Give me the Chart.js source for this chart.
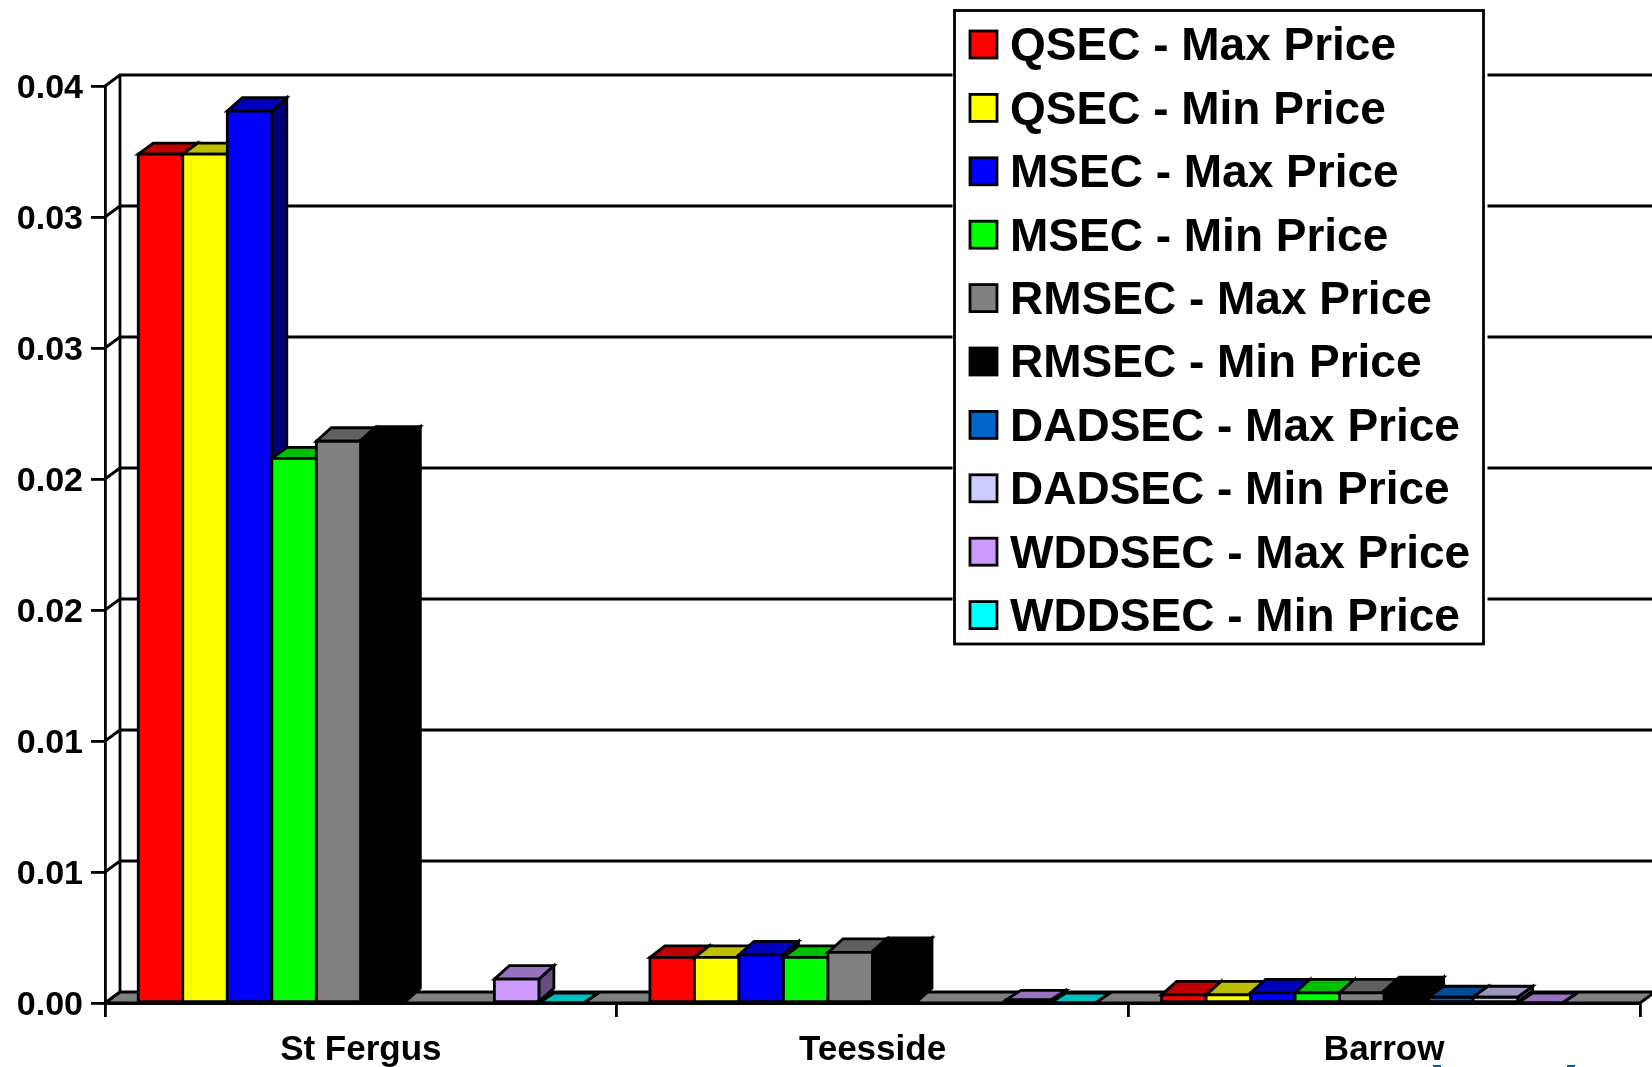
<!DOCTYPE html>
<html><head><meta charset="utf-8">
<style>html,body{margin:0;padding:0;background:#fff;overflow:hidden}canvas{display:block}</style>
<script src="https://cdn.jsdelivr.net/npm/chart.js@4/dist/chart.umd.js"></script>
</head><body><canvas id="c" width="1652" height="1067"></canvas>
<script>
const categories = ['St Fergus','Teesside','Barrow'];
const yTickLabels = ['0.00','0.01','0.01','0.02','0.02','0.03','0.03','0.04'];
const qsecMax   = [0.03240,0.00174,0.00031];
const qsecMin   = [0.03240,0.00174,0.00031];
const msecMax   = [0.03404,0.00184,0.00039];
const msecMin   = [0.02079,0.00174,0.00039];
const rmsecMax  = [0.02144,0.00193,0.00039];
const rmsecMin  = [0.02148,0.00197,0.00047];
const dadsecMax = [null,null,0.00022];
const dadsecMin = [null,null,0.00022];
const wddsecMax = [0.00091,0.00012,0];
const wddsecMin = [0,0,null];
const seriesNames = ['QSEC - Max Price','QSEC - Min Price','MSEC - Max Price','MSEC - Min Price','RMSEC - Max Price','RMSEC - Min Price','DADSEC - Max Price','DADSEC - Min Price','WDDSEC - Max Price','WDDSEC - Min Price'];
const seriesValues = [qsecMax,qsecMin,msecMax,msecMin,rmsecMax,rmsecMin,dadsecMax,dadsecMin,wddsecMax,wddsecMin];
const frontColors = ['#FF0000','#FFFF00','#0000FF','#00FF00','#808080','#000000','#0066CC','#CCCCFF','#CC99FF','#00FFFF'];
const topColors   = ['#BF0000','#BFBF00','#0000BF','#00BF00','#606060','#000000','#004C99','#9999BF','#9972BF','#00BFBF'];
const sideColors  = ['#7F0000','#7F7F00','#00007F','#007F00','#404040','#000000','#00337F','#66667F','#664C7F','#007F7F'];

const FONT = 'Liberation Sans, Arial, sans-serif';
const LW = 2.8;
const WALL_DX = 15, WALL_DY = 11, BAR_DX = 15, BAR_DY = 13.5;
const SHALLOW_TOPS = {'0,0':11,'1,0':11,'3,0':11,'0,1':11.5,'1,1':11.5,'3,1':11.5,'6,2':11,'7,2':11,'9,0':10,'9,1':10,'8,1':9.5,'8,2':10};
const LEGEND = {x:954.5, y:10.5, w:529, h:633.5, rowH:63.4, swatchX:970, swatchY:31, swatchS:27};

function poly(ctx, pts, fill){
  ctx.beginPath();
  pts.forEach((p,i)=> i?ctx.lineTo(p[0],p[1]):ctx.moveTo(p[0],p[1]));
  ctx.closePath();
  if(fill){ctx.fillStyle=fill;ctx.fill();}
  ctx.lineWidth=LW;ctx.strokeStyle='#000';ctx.lineJoin='miter';ctx.stroke();
}

const threeD = {
  id:'threeD',
  afterLayout(chart){
    const lg = chart.legend;
    lg.left = LEGEND.swatchX - lg.options.labels.padding;
    lg.top = 24.7 - lg.options.labels.padding;
    lg.right = lg.left + LEGEND.w; lg.bottom = lg.top + 1000;
    lg.width = LEGEND.w; lg.height = 1000;
  },
  beforeDraw(chart){
    const ctx = chart.ctx, a = chart.chartArea, y = chart.scales.y;
    ctx.save();
    ctx.fillStyle='#fff';ctx.fillRect(0,0,chart.width,chart.height);
    ctx.strokeStyle='#000';ctx.lineWidth=LW;
    poly(ctx,[[a.left,a.bottom],[a.right,a.bottom],[a.right+WALL_DX,a.bottom-WALL_DY],[a.left+WALL_DX,a.bottom-WALL_DY]],'#808080');
    ctx.beginPath();
    ctx.moveTo(a.left+WALL_DX,a.bottom-WALL_DY);ctx.lineTo(a.left+WALL_DX,a.top-WALL_DY);
    y.ticks.forEach(t=>{
      const py=y.getPixelForValue(t.value);
      ctx.moveTo(a.left,py);ctx.lineTo(a.left+WALL_DX,py-WALL_DY);
      if(t.value>0){ctx.lineTo(a.right+WALL_DX,py-WALL_DY);}
    });
    ctx.stroke();
    ctx.fillStyle='#fff';ctx.fillRect(LEGEND.x-2,LEGEND.y-2,LEGEND.w+6,LEGEND.h+4);
    ctx.strokeRect(LEGEND.x,LEGEND.y,LEGEND.w,LEGEND.h);
    ctx.restore();
  },
  beforeDatasetDraw(){ return false; },
  afterDatasetsDraw(chart){
    const ctx = chart.ctx;
    chart.data.datasets.forEach((ds,i)=>{
      chart.getDatasetMeta(i).data.forEach((bar,j)=>{
        if(ds.data[j]===null) return;
        const {x,y,base,width} = bar.getProps(['x','y','base','width']);
        const l=x-width/2, r=x+width/2;
        const dy = SHALLOW_TOPS[i+','+j] || BAR_DY;
        ctx.save();
        poly(ctx,[[r,y],[r+BAR_DX,y-dy],[r+BAR_DX,base-dy],[r,base]],sideColors[i]);
        poly(ctx,[[l,y],[l+BAR_DX,y-dy],[r+BAR_DX,y-dy],[r,y]],topColors[i]);
        bar.draw(ctx);
        poly(ctx,[[l,y],[r,y],[r,base],[l,base]],null);
        ctx.restore();
      });
    });
  },
  afterDraw(chart){
    const ctx = chart.ctx;
    ctx.save();
    seriesNames.forEach((n,i)=>{
      const yy = LEGEND.swatchY + i*LEGEND.rowH;
      ctx.fillStyle=frontColors[i];
      ctx.fillRect(LEGEND.swatchX,yy,LEGEND.swatchS,LEGEND.swatchS);
      ctx.strokeStyle='#000';ctx.lineWidth=LW;
      ctx.strokeRect(LEGEND.swatchX,yy,LEGEND.swatchS,LEGEND.swatchS);
    });
    // clipped fragments at the bottom edge of the source slide
    ctx.fillStyle='#0B5AA0';
    ctx.fillRect(1433,1065,8,2);
    ctx.fillRect(1567,1065,8,2);
    ctx.restore();
  }
};

new Chart(document.getElementById('c'),{
  type:'bar',
  data:{
    labels:categories,
    datasets:seriesNames.map((n,i)=>({
      label:n,data:seriesValues[i],backgroundColor:frontColors[i],borderColor:'#000',borderWidth:0,borderSkipped:false,
      categoryPercentage:0.87,barPercentage:1
    }))
  },
  plugins:[threeD],
  options:{
    responsive:false,animation:false,
    layout:{padding:{top:86,right:12,left:0,bottom:0}},
    plugins:{
      tooltip:{enabled:false},
      title:{display:false},
      legend:{
        display:true,position:'chartArea',align:'start',
        labels:{boxWidth:17,boxHeight:20,padding:17.4,color:'#000',font:{family:FONT,weight:'bold',size:46,lineHeight:1}}
      }
    },
    scales:{
      x:{
        afterFit(s){s.height=64;},
        grid:{drawOnChartArea:false,drawTicks:true,tickLength:14,color:'#000',lineWidth:2.8},
        border:{color:'#000',width:3},
        ticks:{color:'#000',font:{family:FONT,weight:'bold',size:35},padding:12,maxRotation:0}
      },
      y:{
        min:0,max:0.035,
        afterFit(s){s.width=105;},
        grid:{drawOnChartArea:false,drawTicks:true,tickLength:14,color:'#000',lineWidth:2.8},
        border:{color:'#000',width:2.8},
        ticks:{
          stepSize:0.005,autoSkip:false,color:'#000',padding:8,labelOffset:3,
          font:{family:FONT,weight:'bold',size:34},
          callback(v,i){return yTickLabels[i];}
        }
      }
    }
  }
});
</script></body></html>
